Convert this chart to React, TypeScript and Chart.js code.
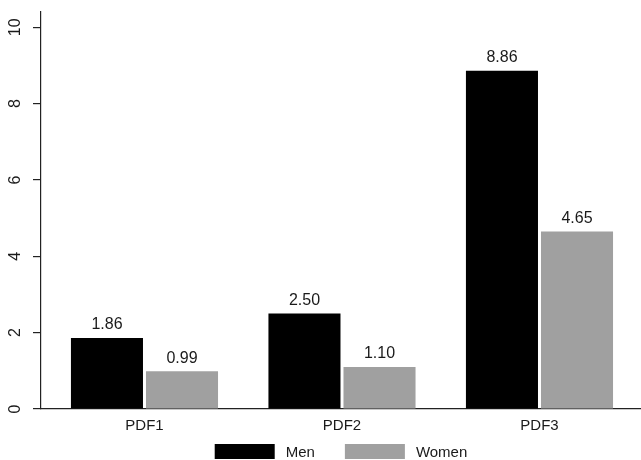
import React, { useEffect, useRef } from "react";
import { Chart, registerables } from "chart.js";

Chart.register(...registerables);

const categories = ["PDF1", "PDF2", "PDF3"];
const menValues = [1.86, 2.5, 8.86];
const womenValues = [0.99, 1.1, 4.65];
const yTickValues = [0, 2, 4, 6, 8, 10];
const seriesNames = ["Men", "Women"];

const FONT = "'Liberation Sans', Arial, Helvetica, sans-serif";
const TEXT = "#1a1a1a";
const LINE = "#222222";

export default function App() {
  const ref = useRef<HTMLCanvasElement | null>(null);

  useEffect(() => {
    document.body.style.margin = "0";
    const canvas = ref.current;
    if (!canvas) return;

    const yLabels = {
      id: "yLabels",
      afterDraw(chart: any) {
        const ctx = chart.ctx;
        const ys = chart.scales.y;
        ctx.save();
        ctx.fillStyle = TEXT;
        ctx.font = `16px ${FONT}`;
        ctx.textAlign = "center";
        ctx.textBaseline = "bottom";
        ys.ticks.forEach((t: any) => {
          const py = ys.getPixelForValue(t.value);
          ctx.save();
          ctx.translate(24, py);
          ctx.rotate(-Math.PI / 2);
          ctx.fillText(String(t.value), 0, 0);
          ctx.restore();
        });
        ctx.restore();
      },
    };

    const dataLabels = {
      id: "dataLabels",
      afterDatasetsDraw(chart: any) {
        const ctx = chart.ctx;
        ctx.save();
        ctx.fillStyle = TEXT;
        ctx.font = `16px ${FONT}`;
        ctx.textAlign = "center";
        ctx.textBaseline = "bottom";
        chart.data.datasets.forEach((ds: any, i: number) => {
          const meta = chart.getDatasetMeta(i);
          meta.data.forEach((bar: any, j: number) => {
            const v = ds.data[j].y as number;
            ctx.fillText(v.toFixed(2), bar.x, bar.y - 5);
          });
        });
        ctx.restore();
      },
    };

    const customLegend = {
      id: "customLegend",
      afterDraw(chart: any) {
        const ctx = chart.ctx;
        const area = chart.chartArea;
        ctx.save();
        ctx.font = `15px ${FONT}`;
        const boxW = 60;
        const boxH = 15;
        const gapText = 11;
        const gapItem = 30;
        const items = chart.data.datasets.map((ds: any) => ({
          label: ds.label,
          color: ds.backgroundColor,
          w: ctx.measureText(ds.label).width,
        }));
        let total = 0;
        items.forEach((it: any, i: number) => {
          total += boxW + gapText + it.w + (i < items.length - 1 ? gapItem : 0);
        });
        let x = (area.left + area.right) / 2 - total / 2;
        const top = 444;
        items.forEach((it: any) => {
          ctx.fillStyle = it.color;
          ctx.fillRect(x, top, boxW, boxH);
          x += boxW + gapText;
          ctx.fillStyle = TEXT;
          ctx.textAlign = "left";
          ctx.textBaseline = "middle";
          ctx.fillText(it.label, x, top + boxH / 2 + 1);
          x += it.w + gapItem;
        });
        ctx.restore();
      },
    };

    const chart = new Chart(canvas, {
      type: "bar",
      data: {
        datasets: [
          {
            label: seriesNames[0],
            data: menValues.map((v, i) => ({ x: i, y: v })),
            backgroundColor: "#000000",
            borderWidth: 0,
          },
          {
            label: seriesNames[1],
            data: womenValues.map((v, i) => ({ x: i, y: v })),
            backgroundColor: "#a0a0a0",
            borderWidth: 0,
          },
        ],
      },
      options: {
        animation: false,
        responsive: true,
        maintainAspectRatio: false,
        layout: { padding: { top: 12, left: 0, right: 0, bottom: 0 } },
        datasets: {
          bar: { categoryPercentage: 0.76, barPercentage: 0.96 },
        },
        plugins: {
          legend: { display: false },
          tooltip: { enabled: false },
        },
        scales: {
          x: {
            type: "linear",
            offset: false,
            min: -0.524,
            max: 2.514,
            afterBuildTicks: (scale: any) => {
              scale.ticks = categories.map((_, i) => ({ value: i }));
            },
            afterFit: (scale: any) => {
              scale.height = 51;
            },
            ticks: {
              padding: 8,
              color: TEXT,
              font: { family: FONT, size: 15 },
              callback: (value: any) => categories[Math.round(Number(value))] ?? "",
            },
            grid: { display: false, drawTicks: false },
            border: { display: true, color: LINE, width: 1.2 },
          },
          y: {
            min: 0,
            max: 10.4,
            afterBuildTicks: (scale: any) => {
              scale.ticks = yTickValues.map((v) => ({ value: v }));
            },
            afterFit: (scale: any) => {
              scale.width = 41;
            },
            ticks: { display: false },
            grid: {
              drawOnChartArea: false,
              drawTicks: true,
              tickLength: 8,
              color: LINE,
              lineWidth: 1.2,
            },
            border: { display: true, color: LINE, width: 1.2 },
          },
        },
      },
      plugins: [yLabels, dataLabels, customLegend],
    });

    return () => chart.destroy();
  }, []);

  return (
    <div style={{ position: "relative", width: 641, height: 460, background: "#fff" }}>
      <canvas ref={ref} />
    </div>
  );
}
